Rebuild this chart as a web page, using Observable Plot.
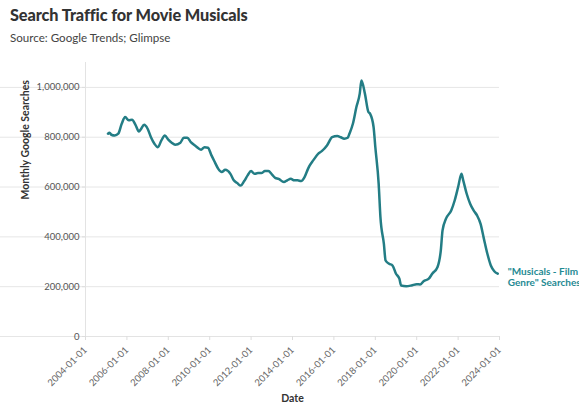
<!DOCTYPE html>
<html><head><meta charset="utf-8">
<script src="https://cdn.jsdelivr.net/npm/d3@7"></script>
<script src="https://cdn.jsdelivr.net/npm/@observablehq/plot@0.6"></script>
<style>
body{margin:0;background:#fff;font-family:Lato,"Noto Sans",sans-serif;}
#wrap{width:579px;height:407px;position:relative;overflow:hidden}
#title{position:absolute;left:10px;top:5px;font-size:16.3px;font-weight:900;color:#333;letter-spacing:-0.1px}
#sub{position:absolute;left:10px;top:31px;font-size:11.6px;color:#444}
#chart{position:absolute;left:0;top:52px}
</style></head>
<body><div id="wrap">
<div id="title">Search Traffic for Movie Musicals</div>
<div id="sub">Source: Google Trends; Glimpse</div>
<div id="chart"></div>
</div>
<script>
const dates = ["2005-02","2005-03","2005-04","2005-06","2005-08","2005-10","2005-12","2006-02","2006-04","2006-06","2006-08","2006-09","2006-11","2007-01","2007-03","2007-05","2007-07","2007-09","2007-11","2008-01","2008-03","2008-05","2008-08","2008-10","2008-12","2009-02","2009-05","2009-08","2009-10","2009-12","2010-02","2010-04","2010-06","2010-08","2010-10","2011-01","2011-03","2011-05","2011-07","2011-09","2011-11","2012-01","2012-03","2012-05","2012-07","2012-09","2012-11","2013-01","2013-03","2013-05","2013-08","2013-10","2013-12","2014-02","2014-04","2014-06","2014-08","2014-10","2014-11","2015-01","2015-04","2015-06","2015-09","2015-12","2016-03","2016-05","2016-07","2016-09","2016-10","2016-12","2017-02","2017-04","2017-05","2017-07","2017-09","2017-10","2017-12","2018-01","2018-03","2018-04","2018-06","2018-07","2018-09","2018-11","2019-01","2019-03","2019-04","2019-07","2019-10","2020-01","2020-03","2020-05","2020-08","2020-10","2021-01","2021-03","2021-04","2021-06","2021-09","2021-11","2022-01","2022-03","2022-04","2022-06","2022-08","2022-10","2022-12","2023-02","2023-04","2023-06","2023-08","2023-10","2023-12"];
const searches = [814000,818000,810000,807000,814000,854000,881000,868000,870000,850000,823000,831000,850000,834000,800000,774000,760000,787000,807000,790000,778000,770000,778000,798000,798000,780000,764000,750000,760000,758000,727000,700000,673000,660000,669000,653000,627000,616000,606000,624000,647000,664000,653000,656000,656000,664000,664000,651000,637000,633000,620000,627000,633000,627000,627000,624000,640000,673000,687000,707000,734000,744000,767000,800000,805000,800000,794000,798000,814000,854000,921000,975000,1028000,975000,901000,894000,841000,760000,613000,479000,372000,305000,292000,285000,252000,232000,205000,202000,205000,210000,209000,222000,232000,252000,278000,345000,426000,473000,506000,546000,600000,653000,627000,573000,533000,506000,486000,452000,392000,332000,285000,262000,252000];
const xTicks = ["2004-01-01","2006-01-01","2008-01-01","2010-01-01","2012-01-01","2014-01-01","2016-01-01","2018-01-01","2020-01-01","2022-01-01","2024-01-01"];
const yTicks = [0,200000,400000,600000,800000,1000000];
const seriesLabel = "\"Musicals - Film\nGenre\" Searches";
const teal = "#237d85";

const data = dates.map((d,i)=>({date:new Date(d+"-01T00:00:00Z"), value:searches[i]}));
const last = data[data.length-1];

const chart = Plot.plot({
  width:579, height:355,
  marginTop:10, marginLeft:85, marginRight:80, marginBottom:71,
  style:{fontFamily:"Lato, 'Noto Sans', sans-serif", fontSize:"9.5px", color:"#555", background:"#fff"},
  x:{type:"utc", domain:[new Date("2004-01-01T00:00:00Z"), new Date("2024-01-01T00:00:00Z")]},
  y:{domain:[0,1100000]},
  marks:[
    Plot.gridY(yTicks,{stroke:"#e6e6e6", strokeOpacity:1, x1:82}),
    Plot.ruleX([new Date("2004-01-01T00:00:00Z")],{stroke:"#e3e3e3"}),
    Plot.ruleY([0],{stroke:"#e3e3e3"}),
    Plot.axisY(yTicks,{tickFormat:d3.format(","), tickSize:3, stroke:"#ddd", tickPadding:3, fill:"#555", label:null}),
    Plot.axisX(xTicks.map(d=>new Date(d+"T00:00:00Z")),{tickFormat:d3.utcFormat("%Y-%m-%d"), tickRotate:-45, tickSize:4, stroke:"#ddd", fill:"#666", label:null}),
    Plot.line(data,{x:"date", y:"value", stroke:teal, strokeWidth:2.5, curve:"monotone-x"}),
    Plot.text([last],{x:"date", y:"value", text:()=>seriesLabel, dx:10, dy:3, textAnchor:"start", fill:"#1f8a93", fontWeight:"bold", fontSize:10, lineHeight:1.1}),
    Plot.text(["Monthly Google Searches"],{frameAnchor:"left", rotate:-90, dx:-60, fontWeight:"bold", fill:"#333", fontSize:10.5}),
    Plot.text(["Date"],{frameAnchor:"bottom", dy:65, fontWeight:"bold", fill:"#333", fontSize:10.5})
  ]
});
document.getElementById("chart").appendChild(chart);
</script>
</body></html>
